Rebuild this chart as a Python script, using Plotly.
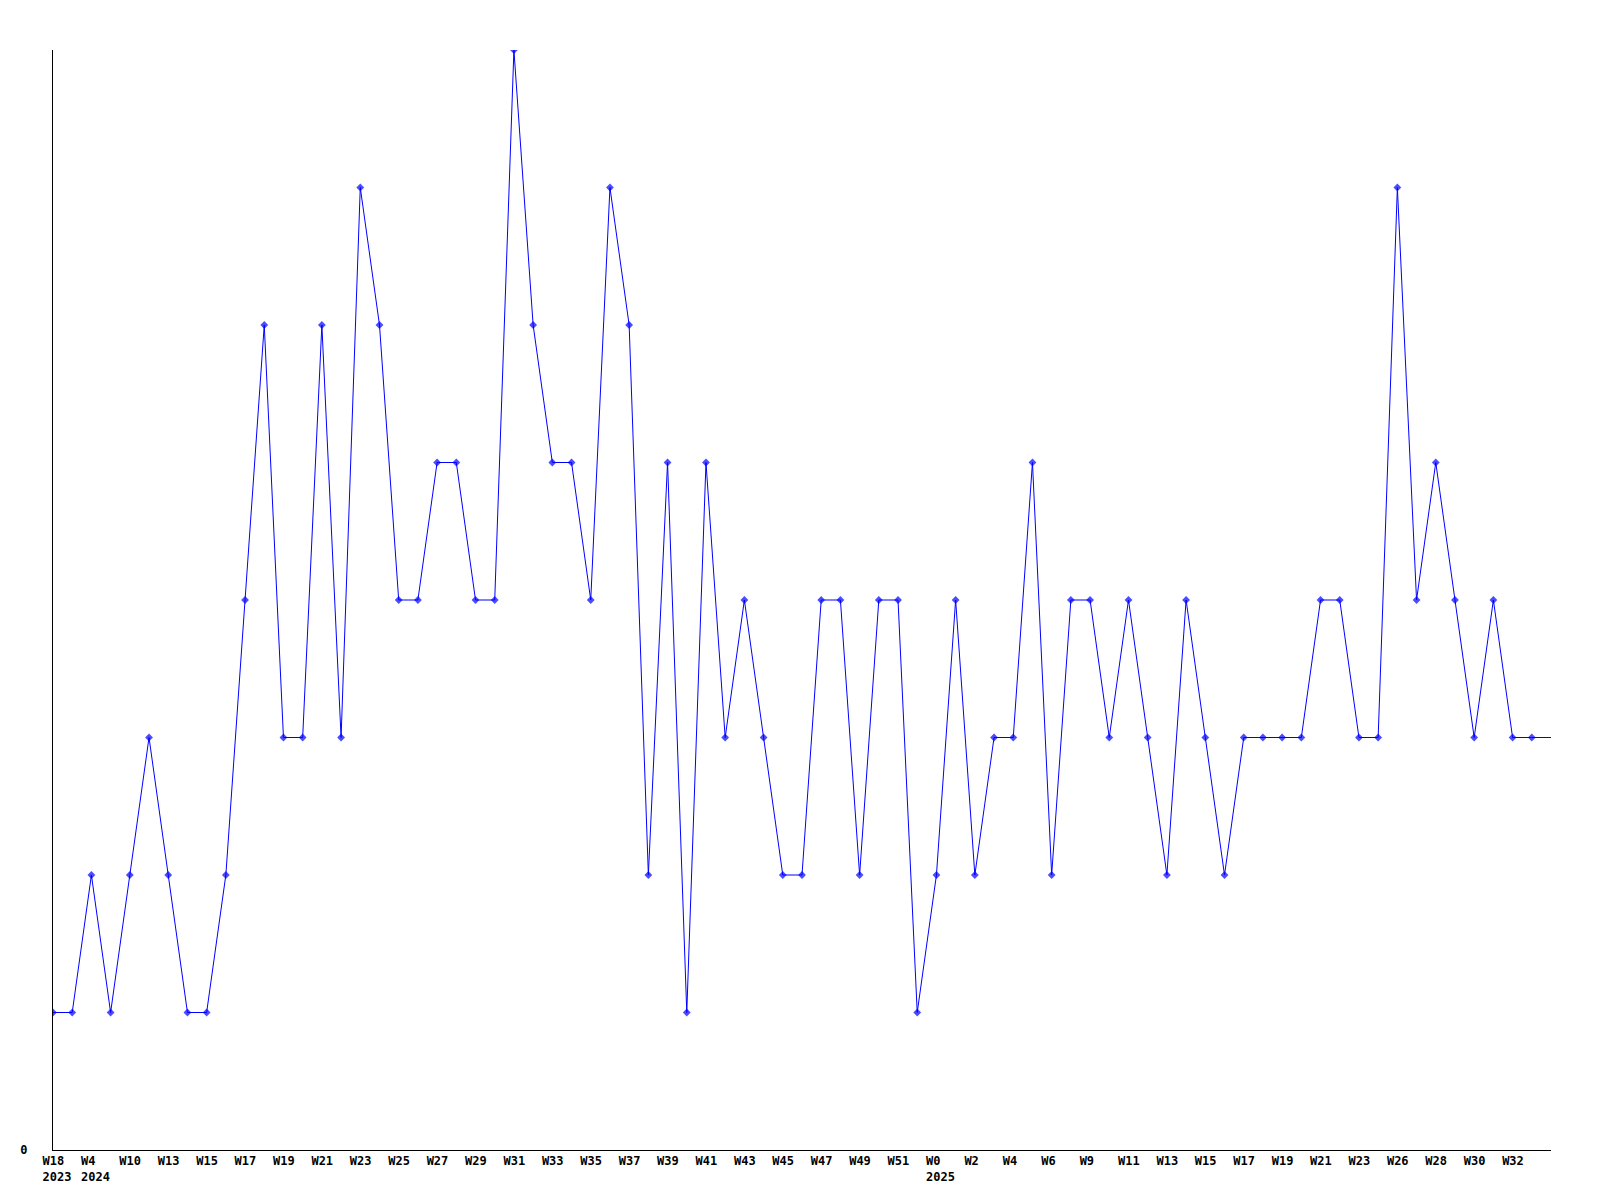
import plotly.graph_objects as go

# Weekly values (last point only continues the line to the axis end, no marker)
values = [1, 1, 2, 1, 2, 3, 2, 1, 1, 2,
          4, 6, 3, 3, 6, 3, 7, 6, 4, 4,
          5, 5, 4, 4, 8, 6, 5, 5, 4, 7,
          6, 2, 5, 1, 5, 3, 4, 3, 2, 2,
          4, 4, 2, 4, 4, 1, 2, 4, 2, 3,
          3, 5, 2, 4, 4, 3, 4, 3, 2, 4,
          3, 2, 3, 3, 3, 3, 4, 4, 3, 3,
          7, 4, 5, 4, 3, 4, 3, 3, 3]
marked = [True] * (len(values) - 1) + [False]

tick_labels = ["W18\n2023", "W4\n2024", "W10", "W13", "W15", "W17", "W19", "W21",
               "W23", "W25", "W27", "W29", "W31", "W33", "W35", "W37", "W39",
               "W41", "W43", "W45", "W47", "W49", "W51", "W0\n2025", "W2", "W4",
               "W6", "W9", "W11", "W13", "W15", "W17", "W19", "W21", "W23",
               "W26", "W28", "W30", "W32"]
tick_step = 2

x = list(range(len(values)))
tickvals = [i * tick_step for i in range(len(tick_labels))]
NB = "\u00a0"


def pad(label):
    return "<br>".join(line + NB * (4 - len(line)) for line in label.split("\n"))


ticktext = [pad(t) for t in tick_labels]

fig = go.Figure()
fig.add_trace(go.Scatter(
    x=x, y=values, mode="lines+markers",
    line=dict(color="#0000ff", width=1),
    marker=dict(symbol="diamond", size=[6 if m else 0 for m in marked],
                color="#0000ff", line=dict(width=0)),
    hoverinfo="skip", showlegend=False,
))

font = dict(family="DejaVu Sans Mono", size=12, color="black", weight="bold")
fig.update_layout(
    width=1592, height=1192,
    margin=dict(l=42, r=49, t=42, b=50),
    paper_bgcolor="white", plot_bgcolor="white",
    xaxis=dict(range=[0, len(values) - 1], tickvals=tickvals, ticktext=ticktext,
               showgrid=False, zeroline=False, showline=True, linecolor="black",
               linewidth=1, ticks="", tickfont=font, ticklabelshift=4,
               tickangle=0, fixedrange=True),
    yaxis=dict(range=[0, 8], tickvals=[0], ticktext=["0"], showgrid=False,
               zeroline=False, showline=True, linecolor="black", linewidth=1,
               ticks="", tickfont=font, ticklabelstandoff=22, fixedrange=True),
)
fig.write_html("out.html", config=dict(displayModeBar=False))
